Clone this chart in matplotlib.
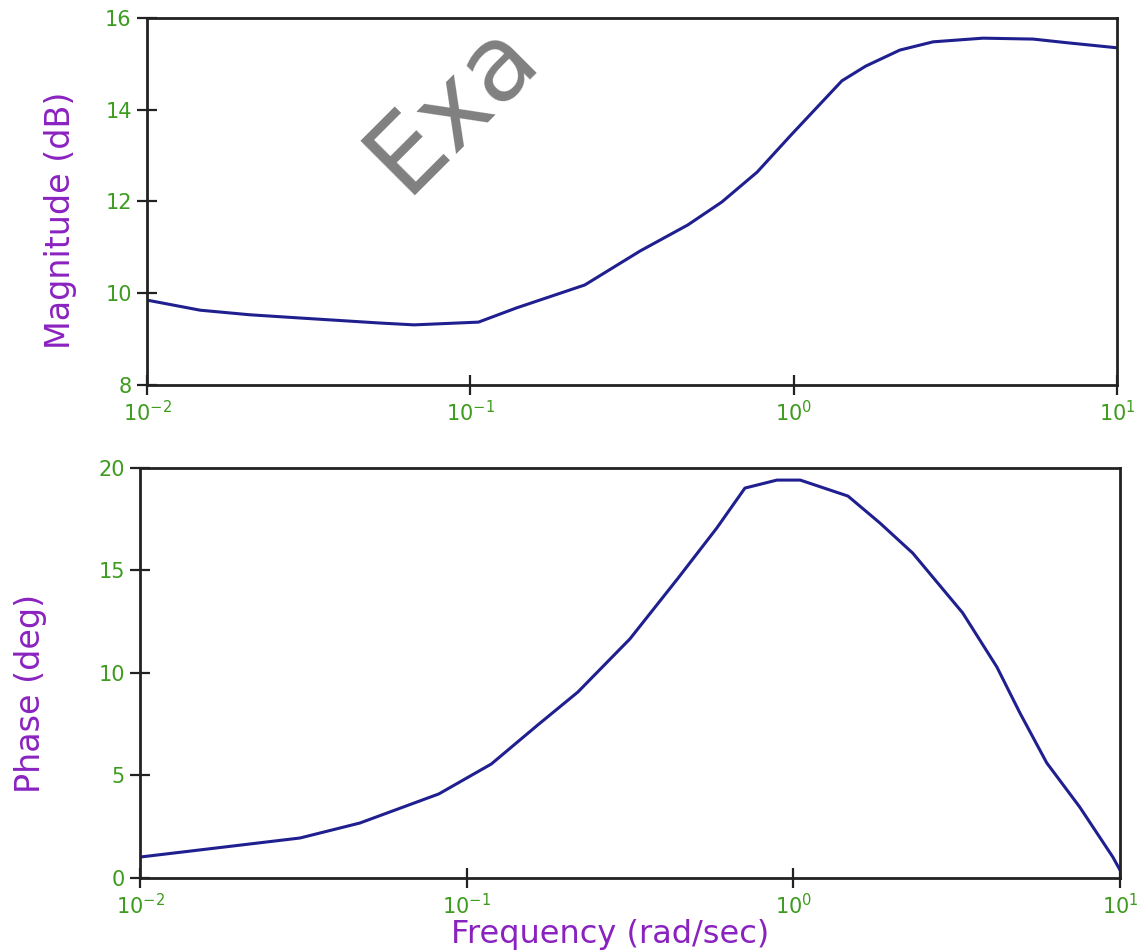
import numpy as np
import matplotlib
matplotlib.use("Agg")
import matplotlib.pyplot as plt
from matplotlib.ticker import FixedLocator, NullLocator

# Magnitude curve (rad/sec, dB)
mag_freq = [0.0100, 0.0146, 0.0208, 0.0297, 0.0526, 0.0670, 0.106, 0.139,
            0.226, 0.335, 0.471, 0.600, 0.771, 0.982, 1.41, 1.67, 2.13,
            2.70, 3.85, 5.50, 7.01, 10.0]
mag_db = [9.85, 9.63, 9.53, 9.46, 9.35, 9.31, 9.37, 9.68,
          10.18, 10.92, 11.49, 11.99, 12.64, 13.45, 14.63, 14.95, 15.30,
          15.48, 15.56, 15.54, 15.46, 15.35]

# Phase curve (rad/sec, deg)
phase_freq = [0.0100, 0.0153, 0.0309, 0.0471, 0.0822, 0.119, 0.165, 0.219,
              0.316, 0.444, 0.583, 0.711, 0.891, 1.05, 1.47, 1.84, 2.32,
              3.30, 4.20, 4.94, 5.97, 7.53, 9.51, 10.0]
phase_deg = [1.02, 1.37, 1.95, 2.68, 4.10, 5.56, 7.46, 9.07,
             11.66, 14.63, 17.07, 19.02, 19.41, 19.41, 18.63, 17.32, 15.85,
             12.93, 10.29, 8.05, 5.61, 3.46, 1.02, 0.39]

x_ticks = [0.01, 0.1, 1, 10]
x_labels = [r"$10^{-2}$", r"$10^{-1}$", r"$10^{0}$", r"$10^{1}$"]
mag_ticks = [8, 10, 12, 14, 16]
phase_ticks = [0, 5, 10, 15, 20]

LINE = "#1f1f8f"
GREEN = "#3d9b1e"
PURPLE = "#8a22c0"
INK = "#222222"

fig = plt.figure(figsize=(11.42, 9.51), dpi=100)
ax1 = fig.add_axes([0.1287, 0.5952, 0.8494, 0.3859])
ax2 = fig.add_axes([0.1226, 0.0768, 0.8581, 0.4311])


def style_axes(ax, yticks):
    ax.set_xscale("log")
    ax.set_xlim(0.01, 10)
    ax.set_ylim(yticks[0], yticks[-1])
    ax.xaxis.set_major_locator(FixedLocator(x_ticks))
    ax.xaxis.set_minor_locator(NullLocator())
    ax.set_xticklabels(x_labels)
    ax.set_yticks(yticks)
    for s in ax.spines.values():
        s.set_linewidth(2)
        s.set_color(INK)
    ax.tick_params(direction="inout", length=14, width=1.6, color=INK,
                   labelcolor=GREEN, labelsize=15, pad=4)


ax1.plot(mag_freq, mag_db, color=LINE, lw=2.2)
style_axes(ax1, mag_ticks)
ax1.set_ylabel("Magnitude (dB)", color=PURPLE, fontsize=24)
ax1.yaxis.set_label_coords(-0.072, 0.45)

ax2.plot(phase_freq, phase_deg, color=LINE, lw=2.2)
style_axes(ax2, phase_ticks)
ax2.set_ylabel("Phase (deg)", color=PURPLE, fontsize=24)
ax2.yaxis.set_label_coords(-0.095, 0.45)
ax2.set_xlabel("Frequency (rad/sec)", color=PURPLE, fontsize=23)
ax2.xaxis.set_label_coords(0.48, -0.1)

# grey watermark over the top panel
fig.text(0.355, 0.795, "Exa", rotation=45, rotation_mode="anchor",
         fontsize=76, color="#808080", ha="left", va="baseline", zorder=10)

fig.savefig("out.png", dpi=100)
